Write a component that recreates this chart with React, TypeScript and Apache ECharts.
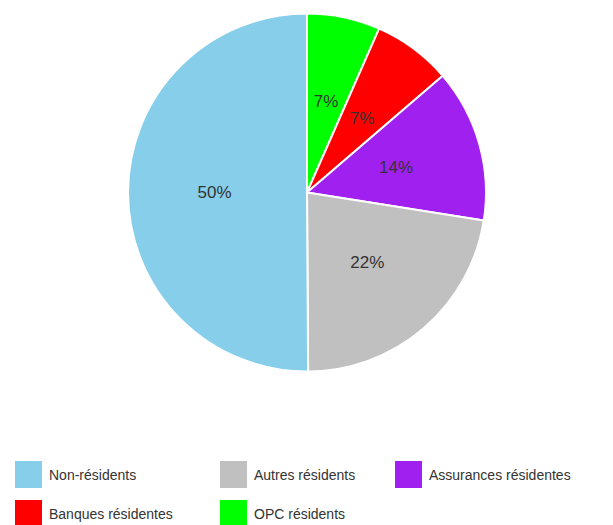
import React, { useEffect, useRef } from "react";
import * as echarts from "echarts";

const categories = ["OPC résidents", "Banques résidentes", "Assurances résidentes", "Autres résidents", "Non-résidents"];
const values = [6.6, 7.1, 13.8, 22.4, 50.1];
const colors = ["#00FF00", "#FF0000", "#A020F0", "#C0C0C0", "#87CEEB"];
const legendOrder = ["Non-résidents", "Autres résidents", "Assurances résidentes", "Banques résidentes", "OPC résidents"];
const legendPos = [
  [13, 459],
  [218, 459],
  [393, 459],
  [13, 498],
  [218, 498],
];

export default function App() {
  const ref = useRef<HTMLDivElement>(null);
  useEffect(() => {
    if (!ref.current) return;
    const chart = echarts.init(ref.current, null, { renderer: "svg" });
    chart.setOption({
      animation: false,
      color: colors,
      legend: legendOrder.map((name, i) => ({
        data: [name],
        left: legendPos[i][0],
        top: legendPos[i][1],
        padding: 0,
        itemWidth: 29,
        itemHeight: 29,
        icon: "rect",
        selectedMode: false,
        textStyle: { fontSize: 14, color: "#333", fontFamily: "Liberation Sans, Arial, sans-serif", padding: [0, 0, 0, 1] },
      })),
      series: [
        {
          type: "pie",
          center: [307, 192.5],
          radius: [0, 179],
          startAngle: 90,
          clockwise: true,
          avoidLabelOverlap: false,
          itemStyle: { borderColor: "#fff", borderWidth: 2 },
          label: {
            show: true,
            position: "inside",
            fontSize: 17,
            color: "#333",
            fontFamily: "Liberation Sans, Arial, sans-serif",
            padding: [4, 0, 0, 0],
            formatter: (p: any) => Math.round(p.percent) + "%",
          },
          labelLine: { show: false },
          emphasis: { disabled: true },
          data: categories.map((name, i) => ({ name, value: values[i] })),
        },
      ],
    });
    return () => chart.dispose();
  }, []);
  return <div ref={ref} style={{ position: "absolute", left: 0, top: 0, width: 613, height: 525 }} />;
}
